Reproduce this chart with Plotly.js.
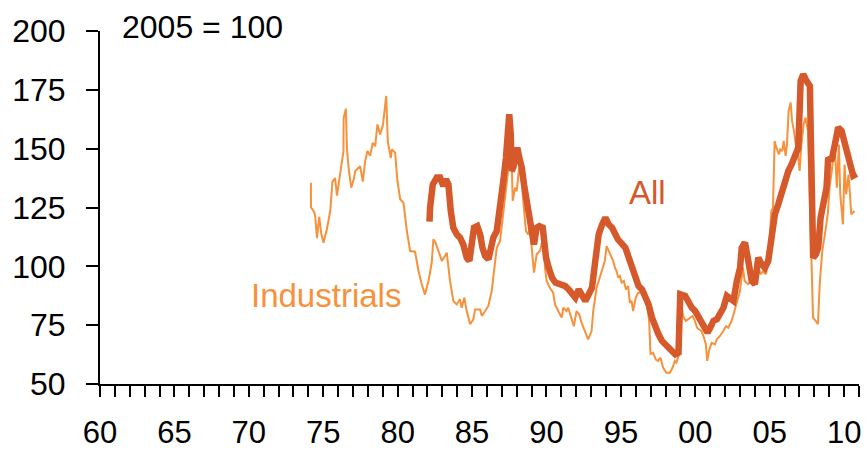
<!DOCTYPE html>
<html>
<head>
<meta charset="utf-8">
<script src="https://cdn.plot.ly/plotly-3.0.1.min.js"></script>
<style>html,body{margin:0;padding:0;background:#fff;}#chart{width:866px;height:449px;}</style>
</head>
<body>
<div id="chart"></div>
<script>
// Industrials index (2005 = 100)
const indYears = [1974.17,1974.18,1974.35,1974.45,1974.58,1974.73,1974.87,1975.02,1975.25,1975.47,1975.62,1975.80,1975.92,1976.09,1976.25,1976.36,1976.37,1976.52,1976.59,1976.70,1976.88,1977.08,1977.15,1977.48,1977.66,1977.82,1977.97,1978.15,1978.33,1978.49,1978.64,1978.82,1979.01,1979.23,1979.34,1979.54,1979.61,1979.83,1979.99,1980.17,1980.39,1980.62,1980.84,1981.17,1981.40,1981.62,1981.84,1982.07,1982.29,1982.40,1982.55,1982.85,1982.97,1983.18,1983.30,1983.52,1983.74,1983.97,1984.19,1984.30,1984.48,1984.64,1984.87,1985.09,1985.20,1985.54,1985.66,1985.88,1986.09,1986.32,1986.43,1986.66,1986.88,1986.99,1987.21,1987.37,1987.50,1987.60,1987.73,1987.89,1988.00,1988.16,1988.34,1988.44,1988.62,1988.78,1988.89,1989.01,1989.16,1989.34,1989.56,1989.78,1989.90,1990.01,1990.23,1990.45,1990.57,1990.79,1991.02,1991.13,1991.35,1991.46,1991.69,1991.84,1992.02,1992.20,1992.36,1992.58,1992.80,1993.03,1993.14,1993.37,1993.70,1993.92,1994.04,1994.26,1994.48,1994.60,1994.71,1994.82,1994.93,1995.05,1995.20,1995.34,1995.49,1995.60,1995.72,1995.82,1996.00,1996.16,1996.39,1996.61,1996.76,1996.90,1996.99,1997.16,1997.34,1997.50,1997.66,1997.84,1998.06,1998.29,1998.47,1998.62,1998.73,1998.91,1998.96,1999.07,1999.18,1999.36,1999.52,1999.68,1999.81,1999.97,2000.12,2000.25,2000.42,2000.58,2000.71,2000.80,2000.94,2001.10,2001.32,2001.44,2001.66,2001.88,2002.06,2002.22,2002.44,2002.66,2002.82,2003.00,2003.20,2003.32,2003.54,2003.77,2003.99,2004.21,2004.37,2004.55,2004.73,2004.88,2005.00,2005.11,2005.22,2005.33,2005.45,2005.62,2005.71,2005.85,2005.94,2006.07,2006.16,2006.27,2006.41,2006.50,2006.63,2006.75,2006.90,2007.01,2007.13,2007.28,2007.41,2007.57,2007.68,2007.79,2007.91,2008.09,2008.24,2008.36,2008.53,2008.76,2008.91,2009.02,2009.20,2009.36,2009.51,2009.65,2009.74,2009.92,2010.03,2010.14,2010.30,2010.48,2010.70];
const indValues = [135.5,125,123.5,122,112,121,113.7,110,116,123.5,136,137.5,130,138,146,149,163,167,150.4,142,133.4,137.7,140.5,142.6,136,144.8,149,147,152.5,151,160.3,156,160,172.4,153,146,149.7,148.3,136,128.5,127,115,106.5,106.2,98,92.3,88,93.8,101.5,111.5,110,105,102.3,104.4,105.8,93.8,85.3,83.8,86,82.4,86.7,81,75.4,77.5,81.7,81.7,78.9,81,83.1,89.5,95.2,107.9,110.8,116.4,127.8,136.3,144.8,160.4,127.8,133.4,132,142,136.3,127.8,115,113.6,116.4,107.9,97.3,105.1,106.5,112.2,99.4,93.8,90.9,88.8,83.9,81,78.2,82.4,81,82.4,78.2,74.6,81,79.6,76,72.5,69,72.5,81,90.9,98,102.3,108.6,105.1,102.3,99.4,98,95.2,95.9,93.1,93.8,90.2,91.6,84.5,85.3,81,86.7,88.8,88.8,86,83.1,76.8,62.6,63.3,60.5,59.8,61.2,56.9,54.8,54.8,56.9,59.8,59.1,62.6,83.1,83.8,78.9,76.8,77.5,78.2,78.9,76.8,73.9,73.2,72.5,69.7,66.8,59.8,64.7,67.5,66.8,69,70.4,72.5,74.6,73.9,76.8,81.7,85.3,89.5,99.4,93.8,92.4,93.8,93.8,100.8,96.6,98,96.6,100.8,112.2,123.5,124.9,153.3,150.4,147.6,149.7,149,153.3,146.9,151.8,166,169.6,161.8,157.5,151.8,147.6,140.5,151.8,160.3,163.2,157.5,132,102.3,78.2,76.8,75.4,92.4,106.5,115.7,122.8,133.4,142,153.3,133.4,151.8,130.6,117.8,143.3,130.6,139,122.1,123.5];

// All commodities index (2005 = 100)
const allYears = [1982.14,1982.18,1982.36,1982.63,1982.85,1983.07,1983.25,1983.41,1983.57,1983.74,1983.97,1984.19,1984.41,1984.64,1984.82,1984.98,1985.13,1985.35,1985.54,1985.70,1985.88,1986.10,1986.27,1986.43,1986.66,1986.83,1986.99,1987.10,1987.28,1987.44,1987.50,1987.60,1987.66,1987.77,1987.88,1988.04,1988.17,1988.34,1988.49,1988.67,1988.85,1989.00,1989.16,1989.34,1989.52,1989.75,1989.83,1989.97,1990.15,1990.37,1990.60,1990.94,1991.27,1991.49,1991.72,1991.94,1992.16,1992.39,1992.61,1992.84,1993.06,1993.28,1993.51,1993.74,1993.96,1994.18,1994.41,1994.63,1994.80,1995.30,1995.52,1995.75,1995.97,1996.19,1996.42,1996.64,1996.86,1997.09,1997.31,1997.53,1997.76,1997.98,1998.20,1998.43,1998.65,1998.87,1998.99,1999.32,1999.55,1999.77,1999.99,2000.22,2000.44,2000.66,2000.82,2001.00,2001.22,2001.45,2001.67,2001.89,2002.12,2002.34,2002.56,2002.79,2003.01,2003.12,2003.34,2003.56,2003.79,2004.01,2004.23,2004.46,2004.68,2004.90,2005.12,2005.35,2005.57,2005.80,2006.02,2006.25,2006.47,2006.70,2006.92,2007.08,2007.25,2007.47,2007.70,2007.76,2007.85,2007.92,2008.10,2008.26,2008.42,2008.59,2008.82,2008.93,2009.15,2009.38,2009.60,2009.83,2010.05,2010.28,2010.39,2010.61,2010.84];
const allValues = [119,125,134.8,137.7,137.7,134.1,137,134.8,123.5,116.4,113.6,112.2,109.3,103.7,102.3,107.9,116.4,117.1,113.6,107.9,104.4,103,107.9,112.2,115,122,130.6,136.3,146.2,159,164.6,156.1,140.5,142,147.6,150.4,146.2,142,134.8,127.8,122,115,109.3,116.4,117.1,116.4,109.3,103.7,99.4,95.2,93.1,92.4,91.6,90.2,88.1,86.7,90.2,88.1,85.3,88.1,90.9,102.3,113.6,117.8,120.7,117.8,116.4,113.6,111.5,107.9,103.7,99.4,95.2,91.6,90.2,87.4,83.8,78.2,73.9,71.1,68.3,66.8,65.4,63.3,62.6,63.3,88.1,87.4,84.5,82.4,81,78.2,76.8,73.9,71.8,73.9,76.8,77.5,79.6,82.4,87.4,86.7,85.3,93.8,99.4,107.9,110.1,102.3,93.8,92.4,103.7,100.8,99.4,102.3,112.2,122.1,126.3,132,134.8,140.5,143.3,146.2,150.4,178.8,181.6,178.8,176.6,156.1,133.4,103.7,105.1,107.9,120.7,126.3,133.4,146.2,144.8,151.8,159,157.5,151.8,147.6,142,138.5,139.3];

const tickYears = [1960,1965,1970,1975,1980,1985,1990,1995,2000,2005,2010];
const tickLabels = ["60","65","70","75","80","85","90","95","00","05","10"];
const yTicks = [50,75,100,125,150,175,200];

const colInd = "#F7913B";
const colAll = "#D5592A";
const font = "Liberation Sans, Arial, sans-serif";

const traces = [
  {x: indYears, y: indValues, type: "scatter", mode: "lines", name: "Industrials",
   line: {color: colInd, width: 2}},
  {x: allYears, y: allValues, type: "scatter", mode: "lines", name: "All",
   line: {color: colAll, width: 6.5}}
];

const layout = {
  width: 866, height: 449,
  margin: {l: 100, r: 7, t: 31, b: 65, pad: 0},
  paper_bgcolor: "#ffffff", plot_bgcolor: "#ffffff",
  showlegend: false,
  font: {family: font, size: 32, color: "#000"},
  xaxis: {
    range: [1960, 2011], showgrid: false, zeroline: false,
    showline: true, linecolor: "#000", linewidth: 2,
    tickmode: "array", tickvals: tickYears, ticktext: tickLabels,
    ticks: "outside", ticklen: 11, tickwidth: 2, tickcolor: "#000",
    ticklabelstandoff: 9,
    tickfont: {family: font, size: 31, color: "#000"},
    minor: {dtick: 1, tick0: 1960, ticks: "outside", ticklen: 11, tickwidth: 2, tickcolor: "#000", showgrid: false}
  },
  yaxis: {
    range: [50, 200], showgrid: false, zeroline: false,
    showline: true, linecolor: "#000", linewidth: 2,
    tickmode: "array", tickvals: yTicks,
    ticks: "outside", ticklen: 12, tickwidth: 2, tickcolor: "#000",
    ticklabelstandoff: 14,
    tickfont: {family: font, size: 32, color: "#000"}
  },
  annotations: [
    {text: "2005 = 100", xref: "paper", yref: "paper", x: 0.027, y: 1.011,
     xanchor: "left", yanchor: "middle", showarrow: false,
     font: {family: font, size: 32, color: "#000"}},
    {text: "Industrials", xref: "x", yref: "y", x: 1975.2, y: 87.6,
     xanchor: "center", yanchor: "middle", showarrow: false,
     font: {family: font, size: 33, color: colInd}},
    {text: "All", xref: "x", yref: "y", x: 1996.8, y: 131.4,
     xanchor: "center", yanchor: "middle", showarrow: false,
     font: {family: font, size: 33, color: colAll}}
  ]
};

Plotly.newPlot("chart", traces, layout, {displayModeBar: false, staticPlot: true});
</script>
</body>
</html>
